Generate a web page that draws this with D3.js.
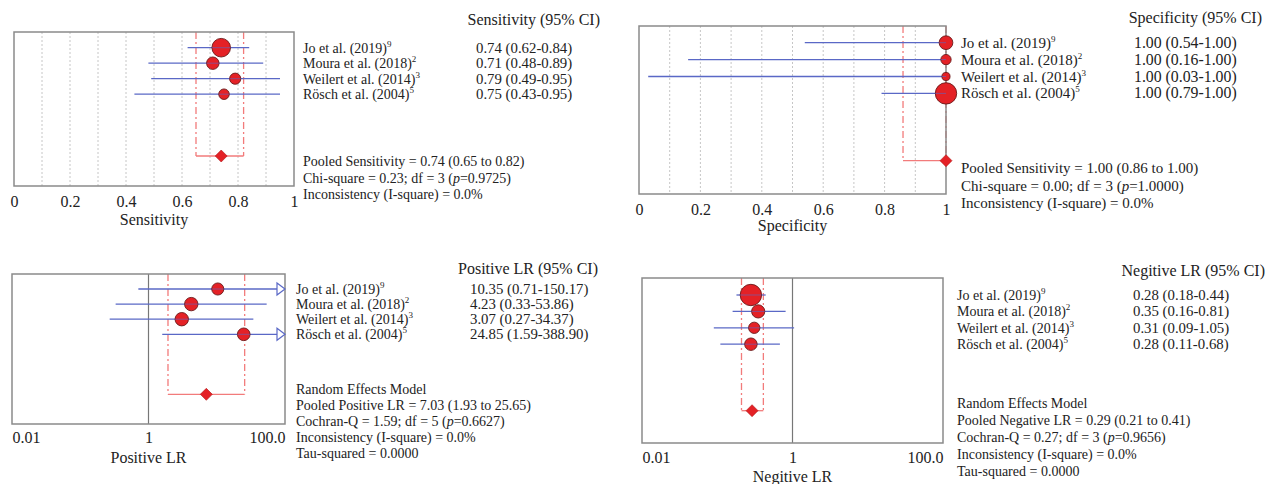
<!DOCTYPE html>
<html>
<head>
<meta charset="utf-8">
<script src="https://cdn.jsdelivr.net/npm/d3@7"></script>
<style>
  body { margin: 0; background: #fff; }
  svg text { font-family: "Liberation Serif", "DejaVu Serif", serif; fill: #222; }
</style>
</head>
<body>
<svg class="forestSVG" width="1267" height="484"></svg>
<script>
const studies = ['Jo et al. (2019)', 'Moura et al. (2018)', 'Weilert et al. (2014)', 'Rösch et al. (2004)'];
const refNums = ['9', '2', '3', '5'];

// sensitivity
const sensEst = [0.74, 0.71, 0.79, 0.75];
const sensLow = [0.62, 0.48, 0.49, 0.43];
const sensHigh = [0.84, 0.89, 0.95, 0.95];
const sensWeight = [47, 21, 17, 15];
const sensPooled = [0.74, 0.65, 0.82];
const sensStats = ['Pooled Sensitivity = 0.74 (0.65 to 0.82)', 'Chi-square = 0.23; df = 3 (p=0.9725)', 'Inconsistency (I-square) = 0.0%'];

// specificity
const specEst = [1.00, 1.00, 1.00, 1.00];
const specLow = [0.54, 0.16, 0.03, 0.79];
const specHigh = [1.00, 1.00, 1.00, 1.00];
const specWeight = [23, 13, 8, 56];
const specPooled = [1.00, 0.86, 1.00];
const specStats = ['Pooled Sensitivity = 1.00 (0.86 to 1.00)', 'Chi-square = 0.00; df = 3 (p=1.0000)', 'Inconsistency (I-square) = 0.0%'];

// positive LR
const plrEst = [10.35, 4.23, 3.07, 24.85];
const plrLow = [0.71, 0.33, 0.27, 1.59];
const plrHigh = [150.17, 53.86, 34.37, 388.90];
const plrWeight = [22, 27, 27, 24];
const plrPooled = [7.03, 1.93, 25.65];
const plrStats = ['Random Effects Model', 'Pooled Positive LR = 7.03 (1.93 to 25.65)', 'Cochran-Q = 1.59; df = 5 (p=0.6627)', 'Inconsistency (I-square) = 0.0%', 'Tau-squared = 0.0000'];

// negative LR
const nlrEst = [0.28, 0.35, 0.31, 0.28];
const nlrLow = [0.18, 0.16, 0.09, 0.11];
const nlrHigh = [0.44, 0.81, 1.05, 0.68];
const nlrWeight = [50, 19, 14, 17];
const nlrPooled = [0.29, 0.21, 0.41];
const nlrStats = ['Random Effects Model', 'Pooled Negative LR = 0.29 (0.21 to 0.41)', 'Cochran-Q = 0.27; df = 3 (p=0.9656)', 'Inconsistency (I-square) = 0.0%', 'Tau-squared = 0.0000'];

const linTicks = [0, 0.2, 0.4, 0.6, 0.8, 1];
const linGrid = [0.1, 0.2, 0.3, 0.4, 0.5, 0.6, 0.7, 0.8, 0.9];
const logTicks = [0.01, 1, 100];
const logTickLabels = ['0.01', '1', '100.0'];

const svg = d3.select('svg.forestSVG');

const blue = '#5a68c6';
const pink = '#f27b7b';
const red = '#e42126';

function drawPanel(cfg){
  const g = svg.append('g').attr('class', 'panel');
  const isLog = cfg.type === 'log';

  const x = isLog
    ? d3.scaleLog().domain([0.01, 100]).range([cfg.x0, cfg.x1])
    : d3.scaleLinear().domain([0, 1]).range([cfg.x0, cfg.x1]);

  const rowY = i => cfg.rowTop + i * cfg.rowStep;
  const rad = d3.scaleSqrt().domain([0, d3.max(cfg.weight)]).range([0, cfg.rMax]);

  // grid
  if (!isLog){
    g.selectAll('line.grid')
      .data(linGrid)
      .enter()
      .append('line')
      .attr('class', 'grid')
      .attr('x1', d => x(d)).attr('x2', d => x(d))
      .attr('y1', cfg.y0).attr('y2', cfg.y1)
      .style('stroke', '#c6c6c6')
      .style('stroke-dasharray', '2,2');
  } else {
    g.append('line')
      .attr('x1', x(1)).attr('x2', x(1))
      .attr('y1', cfg.y0).attr('y2', cfg.y1)
      .style('stroke', '#777')
      .style('stroke-width', 1.2);
  }

  // pooled bracket
  const pl = x(cfg.pooled[1]), ph = x(cfg.pooled[2]), py = cfg.pooledY;
  [pl, ph].forEach(px => {
    g.append('line')
      .attr('x1', px).attr('x2', px)
      .attr('y1', cfg.y0).attr('y2', py)
      .style('stroke', pink)
      .style('stroke-width', 1.3)
      .style('stroke-dasharray', '7,3,2,3');
  });
  g.append('line')
    .attr('x1', pl).attr('x2', ph)
    .attr('y1', py).attr('y2', py)
    .style('stroke', pink)
    .style('stroke-width', 1.3);

  // box
  g.append('rect')
    .attr('x', cfg.x0).attr('y', cfg.y0)
    .attr('width', cfg.x1 - cfg.x0).attr('height', cfg.y1 - cfg.y0)
    .style('fill', 'none')
    .style('stroke', '#8a8a8a')
    .style('stroke-width', 1.5);

  const rows = studies.map((s, i) => ({
    study: s, ref: refNums[i],
    est: cfg.est[i], lo: cfg.low[i], hi: cfg.high[i], w: cfg.weight[i], i: i
  }));

  const arrowW = 8;
  // CI lines
  g.selectAll('line.ci')
    .data(rows)
    .enter()
    .append('line')
    .attr('class', 'ci')
    .attr('x1', d => x(d.lo))
    .attr('x2', d => d.hi > x.domain()[1] ? cfg.x1 - arrowW : x(d.hi))
    .attr('y1', d => rowY(d.i)).attr('y2', d => rowY(d.i))
    .style('stroke', blue)
    .style('stroke-width', 1.3);

  // open arrow heads for CIs beyond the axis
  g.selectAll('path.arrow')
    .data(rows.filter(d => d.hi > x.domain()[1]))
    .enter()
    .append('path')
    .attr('class', 'arrow')
    .attr('d', d => {
      const y = rowY(d.i);
      return `M${cfg.x1 - arrowW},${y - 6}L${cfg.x1},${y}L${cfg.x1 - arrowW},${y + 6}Z`;
    })
    .style('fill', '#fff')
    .style('stroke', blue)
    .style('stroke-width', 1.2);

  // study points
  g.selectAll('circle.pt')
    .data(rows)
    .enter()
    .append('circle')
    .attr('class', 'pt')
    .attr('cx', d => x(d.est))
    .attr('cy', d => rowY(d.i))
    .attr('r', d => rad(d.w))
    .style('fill', red)
    .style('stroke', '#6a1a1a')
    .style('stroke-width', 0.9);

  // CI line drawn through the circle again (visible centre line)
  g.selectAll('line.ciTop')
    .data(rows)
    .enter()
    .append('line')
    .attr('x1', d => Math.max(x(d.lo), x(d.est) - rad(d.w)))
    .attr('x2', d => Math.min(d.hi > x.domain()[1] ? cfg.x1 : x(d.hi), x(d.est) + rad(d.w)))
    .attr('y1', d => rowY(d.i)).attr('y2', d => rowY(d.i))
    .style('stroke', blue)
    .style('stroke-width', 1)
    .style('stroke-opacity', 0.6);

  // pooled diamond
  const dx = x(cfg.pooled[0]);
  g.append('path')
    .attr('d', `M${dx - 6},${py}L${dx},${py - 6}L${dx + 6},${py}L${dx},${py + 6}Z`)
    .style('fill', red)
    .style('stroke', '#b01818')
    .style('stroke-width', 0.6);

  // axis
  const axis = d3.axisBottom(x).tickSize(0).tickPadding(0);
  if (isLog){
    axis.tickValues(logTicks).tickFormat((d, i) => logTickLabels[i]);
  } else {
    axis.tickValues(linTicks).tickFormat(d => String(d));
  }
  const ax = g.append('g')
    .attr('transform', `translate(0,${cfg.tickY})`)
    .call(axis);
  ax.select('.domain').remove();
  ax.selectAll('text')
    .attr('dy', 0).attr('y', 0)
    .style('font-size', '16px')
    .style('font-family', '"Liberation Serif", serif')
    .attr('fill', '#222');
  if (isLog){
    ax.selectAll('text').attr('text-anchor', (d, i) => i === 0 ? 'start' : (i === 2 ? 'end' : 'middle'));
  }

  g.append('text')
    .attr('x', (cfg.x0 + cfg.x1) / 2)
    .attr('y', cfg.titleY)
    .style('text-anchor', 'middle')
    .style('font-size', '16px')
    .text(cfg.axisTitle);

  // text block
  g.append('text')
    .attr('x', cfg.headX)
    .attr('y', cfg.headY)
    .style('text-anchor', 'end')
    .style('font-size', '16px')
    .text(cfg.header);

  const names = g.selectAll('text.name')
    .data(rows)
    .enter()
    .append('text')
    .attr('class', 'name')
    .attr('x', cfg.nameX)
    .attr('y', d => rowY(d.i) + 5)
    .style('font-size', cfg.fs + 'px');
  names.append('tspan').text(d => d.study);
  names.append('tspan')
    .attr('dy', -6)
    .style('font-size', '9px')
    .text(d => d.ref);

  g.selectAll('text.val')
    .data(rows)
    .enter()
    .append('text')
    .attr('class', 'val')
    .attr('x', cfg.valX)
    .attr('y', d => rowY(d.i) + 5)
    .style('font-size', (cfg.fs + 0.8) + 'px')
    .text(d => `${d.est.toFixed(2)} (${d.lo.toFixed(2)}-${d.hi.toFixed(2)})`);

  cfg.stats.forEach((s, i) => {
    const t = g.append('text')
      .attr('x', cfg.nameX)
      .attr('y', cfg.statY + i * cfg.statStep)
      .style('font-size', cfg.fs + 'px');
    const k = s.indexOf('(p=');
    if (k < 0){
      t.text(s);
    } else {
      t.append('tspan').text(s.slice(0, k + 1));
      t.append('tspan').style('font-style', 'italic').text('p');
      t.append('tspan').text(s.slice(k + 2));
    }
  });
}

drawPanel({
  type: 'lin', est: sensEst, low: sensLow, high: sensHigh, weight: sensWeight, pooled: sensPooled, stats: sensStats,
  x0: 14, x1: 294, y0: 32, y1: 186, rowTop: 47.7, rowStep: 15.5, pooledY: 156, rMax: 9.3,
  tickY: 207, titleY: 225, axisTitle: 'Sensitivity',
  header: 'Sensitivity (95% CI)', headX: 600, headY: 25,
  nameX: 303, valX: 476, fs: 14, statY: 166, statStep: 16.5
});

drawPanel({
  type: 'lin', est: specEst, low: specLow, high: specHigh, weight: specWeight, pooled: specPooled, stats: specStats,
  x0: 639, x1: 946, y0: 26, y1: 194, rowTop: 42.7, rowStep: 16.9, pooledY: 160.7, rMax: 10.7,
  tickY: 215, titleY: 231, axisTitle: 'Specificity',
  header: 'Specificity (95% CI)', headX: 1262, headY: 23,
  nameX: 961, valX: 1134, fs: 15, statY: 173, statStep: 17.5
});

drawPanel({
  type: 'log', est: plrEst, low: plrLow, high: plrHigh, weight: plrWeight, pooled: plrPooled, stats: plrStats,
  x0: 12, x1: 285, y0: 274, y1: 424, rowTop: 289, rowStep: 15.1, pooledY: 394.3, rMax: 6.7,
  tickY: 443, titleY: 463, axisTitle: 'Positive  LR',
  header: 'Positive LR (95% CI)', headX: 598, headY: 274,
  nameX: 296, valX: 470, fs: 14, statY: 394, statStep: 16
});

drawPanel({
  type: 'log', est: nlrEst, low: nlrLow, high: nlrHigh, weight: nlrWeight, pooled: nlrPooled, stats: nlrStats,
  x0: 642, x1: 943, y0: 278, y1: 443, rowTop: 295, rowStep: 16.4, pooledY: 410.7, rMax: 10.7,
  tickY: 463, titleY: 482, axisTitle: 'Negitive LR',
  header: 'Negitive LR (95% CI)', headX: 1265, headY: 276,
  nameX: 957, valX: 1133, fs: 14, statY: 408, statStep: 17
});
</script>
</body>
</html>
